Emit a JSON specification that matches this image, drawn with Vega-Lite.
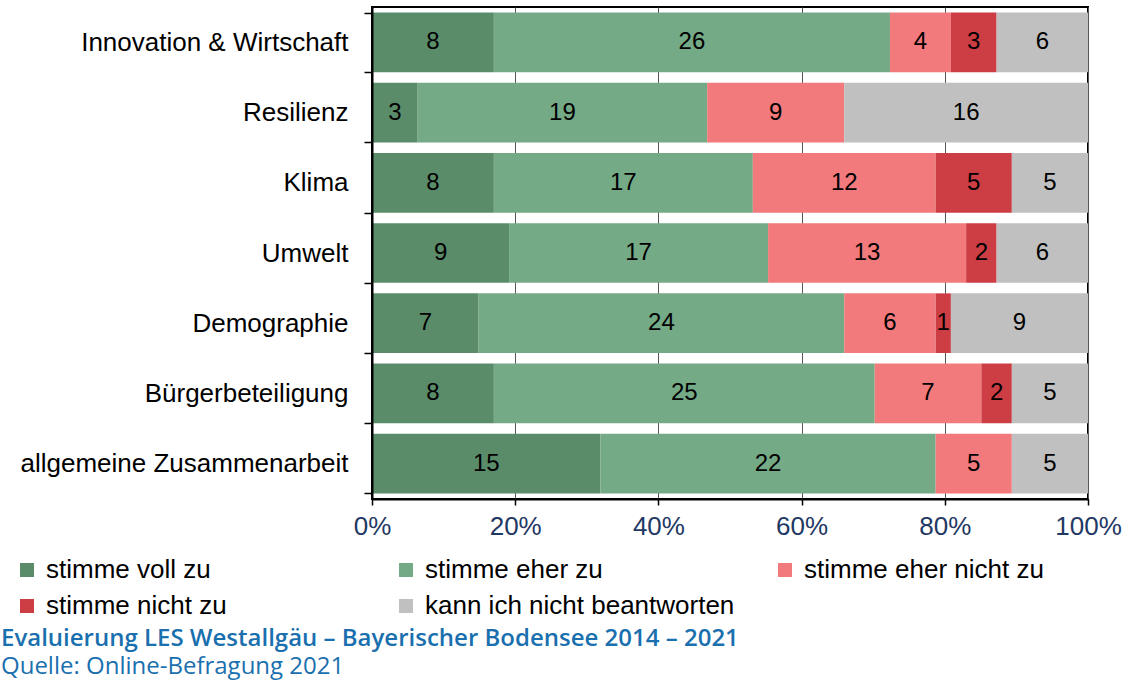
{
  "$schema": "https://vega.github.io/schema/vega-lite/v6.json",
  "width": 716,
  "height": 492,
  "autosize": {"type": "none"},
  "padding": {"left": 372, "top": 7, "right": 38, "bottom": 182},
  "background": "white",
  "title": {
    "text": "Evaluierung LES Westallgäu – Bayerischer Bodensee 2014 – 2021",
    "subtitle": "Quelle: Online-Befragung 2021",
    "orient": "bottom",
    "anchor": "start",
    "frame": "bounds",
    "offset": 8,
    "dx": -13,
    "font": "Open Sans",
    "fontSize": 24,
    "fontWeight": 600,
    "color": "#1A70AE",
    "subtitleFont": "Open Sans",
    "subtitleFontSize": 24,
    "subtitleFontWeight": 400,
    "subtitleColor": "#1A70AE",
    "subtitlePadding": 4
  },
  "data": {
    "values": [
      {"Thema": "Innovation & Wirtschaft", "Antwort": "stimme voll zu", "Anzahl": 8},
      {"Thema": "Innovation & Wirtschaft", "Antwort": "stimme eher zu", "Anzahl": 26},
      {"Thema": "Innovation & Wirtschaft", "Antwort": "stimme eher nicht zu", "Anzahl": 4},
      {"Thema": "Innovation & Wirtschaft", "Antwort": "stimme nicht zu", "Anzahl": 3},
      {"Thema": "Innovation & Wirtschaft", "Antwort": "kann ich nicht beantworten", "Anzahl": 6},
      {"Thema": "Resilienz", "Antwort": "stimme voll zu", "Anzahl": 3},
      {"Thema": "Resilienz", "Antwort": "stimme eher zu", "Anzahl": 19},
      {"Thema": "Resilienz", "Antwort": "stimme eher nicht zu", "Anzahl": 9},
      {"Thema": "Resilienz", "Antwort": "kann ich nicht beantworten", "Anzahl": 16},
      {"Thema": "Klima", "Antwort": "stimme voll zu", "Anzahl": 8},
      {"Thema": "Klima", "Antwort": "stimme eher zu", "Anzahl": 17},
      {"Thema": "Klima", "Antwort": "stimme eher nicht zu", "Anzahl": 12},
      {"Thema": "Klima", "Antwort": "stimme nicht zu", "Anzahl": 5},
      {"Thema": "Klima", "Antwort": "kann ich nicht beantworten", "Anzahl": 5},
      {"Thema": "Umwelt", "Antwort": "stimme voll zu", "Anzahl": 9},
      {"Thema": "Umwelt", "Antwort": "stimme eher zu", "Anzahl": 17},
      {"Thema": "Umwelt", "Antwort": "stimme eher nicht zu", "Anzahl": 13},
      {"Thema": "Umwelt", "Antwort": "stimme nicht zu", "Anzahl": 2},
      {"Thema": "Umwelt", "Antwort": "kann ich nicht beantworten", "Anzahl": 6},
      {"Thema": "Demographie", "Antwort": "stimme voll zu", "Anzahl": 7},
      {"Thema": "Demographie", "Antwort": "stimme eher zu", "Anzahl": 24},
      {"Thema": "Demographie", "Antwort": "stimme eher nicht zu", "Anzahl": 6},
      {"Thema": "Demographie", "Antwort": "stimme nicht zu", "Anzahl": 1},
      {"Thema": "Demographie", "Antwort": "kann ich nicht beantworten", "Anzahl": 9},
      {"Thema": "Bürgerbeteiligung", "Antwort": "stimme voll zu", "Anzahl": 8},
      {"Thema": "Bürgerbeteiligung", "Antwort": "stimme eher zu", "Anzahl": 25},
      {"Thema": "Bürgerbeteiligung", "Antwort": "stimme eher nicht zu", "Anzahl": 7},
      {"Thema": "Bürgerbeteiligung", "Antwort": "stimme nicht zu", "Anzahl": 2},
      {"Thema": "Bürgerbeteiligung", "Antwort": "kann ich nicht beantworten", "Anzahl": 5},
      {"Thema": "allgemeine Zusammenarbeit", "Antwort": "stimme voll zu", "Anzahl": 15},
      {"Thema": "allgemeine Zusammenarbeit", "Antwort": "stimme eher zu", "Anzahl": 22},
      {"Thema": "allgemeine Zusammenarbeit", "Antwort": "stimme eher nicht zu", "Anzahl": 5},
      {"Thema": "allgemeine Zusammenarbeit", "Antwort": "kann ich nicht beantworten", "Anzahl": 5}
    ]
  },
  "transform": [
    {"calculate": "indexof(['stimme voll zu','stimme eher zu','stimme eher nicht zu','stimme nicht zu','kann ich nicht beantworten'], datum.Antwort)", "as": "rang"},
    {"stack": "Anzahl", "groupby": ["Thema"], "sort": [{"field": "rang", "order": "ascending"}], "offset": "normalize", "as": ["x0", "x1"]},
    {"calculate": "(datum.x0 + datum.x1) / 2", "as": "xm"}
  ],
  "encoding": {
    "y": {
      "field": "Thema",
      "type": "nominal",
      "sort": ["Innovation & Wirtschaft", "Resilienz", "Klima", "Umwelt", "Demographie", "Bürgerbeteiligung", "allgemeine Zusammenarbeit"],
      "scale": {"paddingInner": 0.15, "paddingOuter": 0.08},
      "axis": {
        "title": null,
        "tickBand": "extent",
        "tickColor": "black",
        "tickSize": 8,
        "tickWidth": 1.5,
        "labelPadding": 16,
        "labelFontSize": 26,
        "labelFont": "Liberation Sans",
        "labelColor": "black",
        "labelLimit": 400,
        "domainColor": "black",
        "domainWidth": 2,
        "zindex": 1
      }
    }
  },
  "layer": [
    {
      "mark": {"type": "bar"},
      "encoding": {
        "x": {
          "field": "x0",
          "type": "quantitative",
          "scale": {"domain": [0, 1], "nice": false},
          "axis": {
            "title": null,
            "values": [0, 0.2, 0.4, 0.6, 0.8, 1],
            "format": ".0%",
            "grid": true,
            "gridColor": "#555555",
            "gridWidth": 1,
            "tickColor": "black",
            "tickSize": 6,
            "tickWidth": 1.5,
            "labelFontSize": 26,
            "labelFont": "Liberation Sans",
            "labelColor": "#1F3864",
            "labelPadding": 8,
            "labelFlush": false,
            "domainColor": "black",
            "domainWidth": 2
          }
        },
        "x2": {"field": "x1"},
        "color": {
          "field": "Antwort",
          "type": "nominal",
          "scale": {
            "domain": ["stimme voll zu", "stimme eher zu", "stimme eher nicht zu", "stimme nicht zu", "kann ich nicht beantworten"],
            "range": ["#5a8c6a", "#74aa86", "#f27a7c", "#cc3d44", "#c0c0c0"]
          },
          "legend": {
            "title": null,
            "orient": "none",
            "legendX": -358,
            "legendY": 550,
            "direction": "horizontal",
            "columns": 3,
            "gridAlign": "all",
            "columnPadding": 37,
            "rowPadding": 10,
            "symbolType": "square",
            "symbolSize": 196,
            "symbolStrokeWidth": 0,
            "labelFontSize": 26,
            "labelFont": "Liberation Sans",
            "labelColor": "black",
            "labelOffset": 6,
            "labelLimit": 500
          }
        }
      }
    },
    {
      "mark": {"type": "text", "fontSize": 24, "font": "Liberation Sans", "color": "black"},
      "encoding": {
        "x": {"field": "xm", "type": "quantitative"},
        "text": {"field": "Anzahl", "type": "quantitative"}
      }
    }
  ],
  "config": {"view": {"stroke": "black", "strokeWidth": 2}}
}
